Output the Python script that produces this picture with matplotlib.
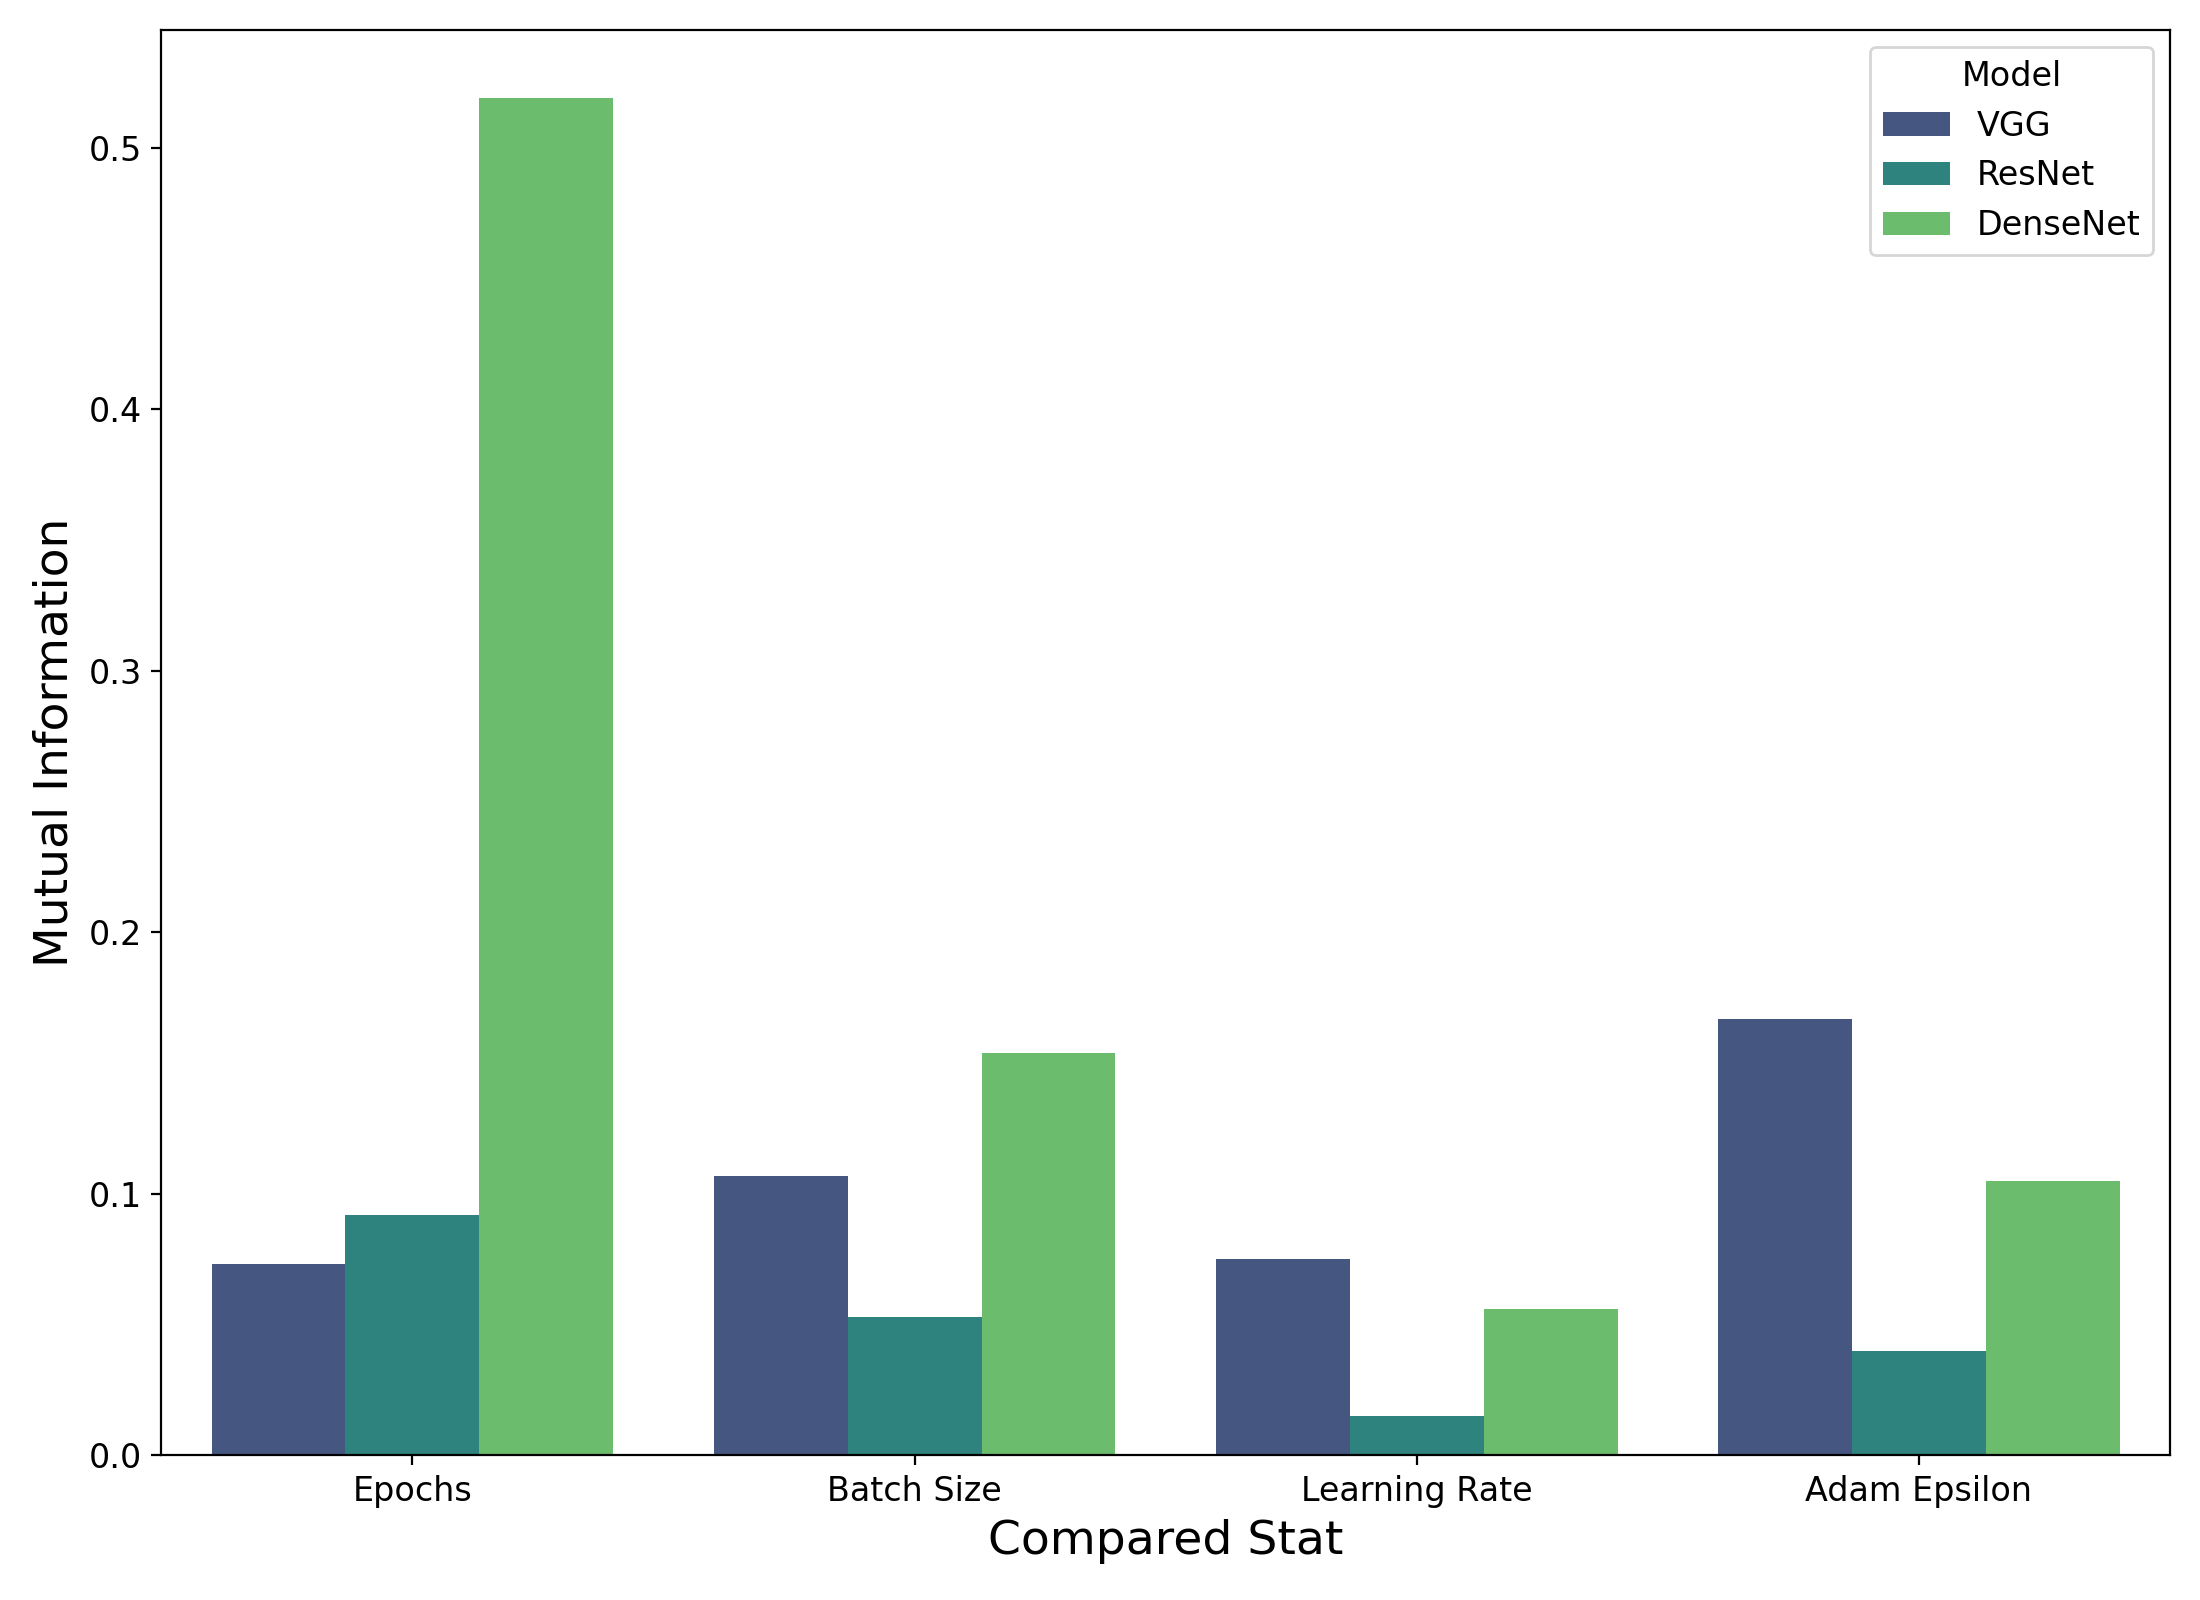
import matplotlib
matplotlib.use('Agg')
import matplotlib.pyplot as plt
import seaborn as sns
import pandas as pd

stats = ['Epochs', 'Batch Size', 'Learning Rate', 'Adam Epsilon']
models = ['VGG', 'ResNet', 'DenseNet']
vgg = [0.073, 0.107, 0.075, 0.167]
resnet = [0.092, 0.053, 0.015, 0.040]
densenet = [0.519, 0.154, 0.056, 0.105]

rows = []
for model, vals in zip(models, [vgg, resnet, densenet]):
    for s, v in zip(stats, vals):
        rows.append({'Compared Stat': s, 'Model': model, 'Mutual Information': v})
df = pd.DataFrame(rows)

fig, ax = plt.subplots(figsize=(11, 8))
sns.barplot(data=df, x='Compared Stat', y='Mutual Information', hue='Model',
            palette='viridis', ax=ax)
ax.set_xlabel('Compared Stat', fontsize=17)
ax.set_ylabel('Mutual Information', fontsize=17)
ax.tick_params(labelsize=12)
leg = ax.legend(title='Model', fontsize=12, title_fontsize=12, loc='upper right')

fig.tight_layout()
fig.savefig('out.png', dpi=200)
